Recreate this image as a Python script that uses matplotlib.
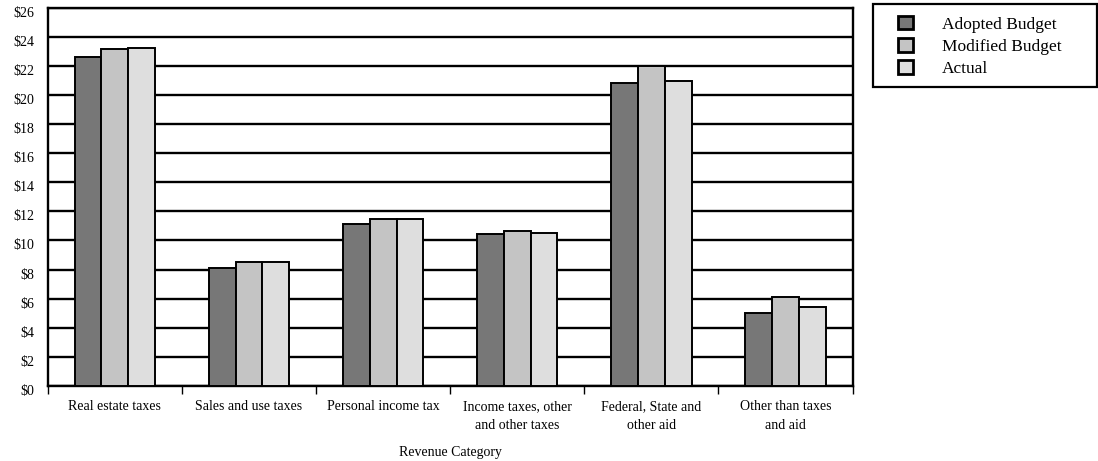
import matplotlib.pyplot as plt
import matplotlib.patches as mpatches
import matplotlib.transforms as mtransforms
import numpy as np

plt.rcParams['font.family'] = ['Liberation Serif', 'DejaVu Serif']

categories = ['Real estate taxes', 'Sales and use taxes', 'Personal income tax',
              'Income taxes, other\nand other taxes', 'Federal, State and\nother aid',
              'Other than taxes\nand aid']
series = ['Adopted Budget', 'Modified Budget', 'Actual']
adopted = [22.6, 8.1, 11.15, 10.45, 20.8, 5.0]
modified = [23.2, 8.55, 11.5, 10.65, 22.0, 6.1]
actual = [23.25, 8.5, 11.45, 10.5, 20.95, 5.45]
colors = ['#777777', '#c4c4c4', '#dedede']

fig = plt.figure(figsize=(10.98, 4.61), dpi=100)
ax = fig.add_axes([0.0435, 0.163, 0.733, 0.82])

x = np.arange(len(categories))
w = 0.2
for i, (vals, name) in enumerate(zip([adopted, modified, actual], series)):
    ax.bar(x + (i - 1) * w, vals, w, color=colors[i], edgecolor='black',
           linewidth=1.4, label=name, zorder=3)

ax.set_xlim(-0.5, len(categories) - 0.5)
ax.set_ylim(0, 26)
ax.set_yticks(np.arange(0, 27, 2))
ax.set_yticklabels(['$%d' % v for v in range(0, 27, 2)], fontsize=10)
ax.yaxis.grid(True, color='black', linewidth=1.7, zorder=0)
ax.set_axisbelow(True)
ax.tick_params(axis='y', length=0, pad=9.5)
# labels sit a little below their gridlines in the original
shift = mtransforms.ScaledTranslation(0, -4 / 100, fig.dpi_scale_trans)
for lab in ax.get_yticklabels():
    lab.set_transform(lab.get_transform() + shift)

ax.set_xticks(x)
ax.set_xticklabels(categories, fontsize=10, linespacing=1.6)
ax.tick_params(axis='x', length=0, pad=10)
ax.set_xticks(np.arange(-0.5, len(categories)), minor=True)
ax.tick_params(axis='x', which='minor', length=6, width=1, direction='out')
ax.set_xlabel('Revenue Category', fontsize=10, labelpad=10)

for s in ax.spines.values():
    s.set_linewidth(1.7)

leg = fig.legend(loc='upper left', bbox_to_anchor=(898 / 1098, 1 - 16 / 461),
                 fontsize=12.5, frameon=False, handlelength=0.85, handleheight=0.8,
                 handletextpad=1.7, borderpad=0, labelspacing=0.32, borderaxespad=0)
for h in leg.legend_handles:
    h.set_linewidth(2)
fig.patches.append(mpatches.Rectangle((873 / 1098, 1 - 87 / 461), 224 / 1098, 83 / 461,
                                      transform=fig.transFigure, fill=False,
                                      edgecolor='black', linewidth=1.6))

fig.savefig('out.png', dpi=100)
